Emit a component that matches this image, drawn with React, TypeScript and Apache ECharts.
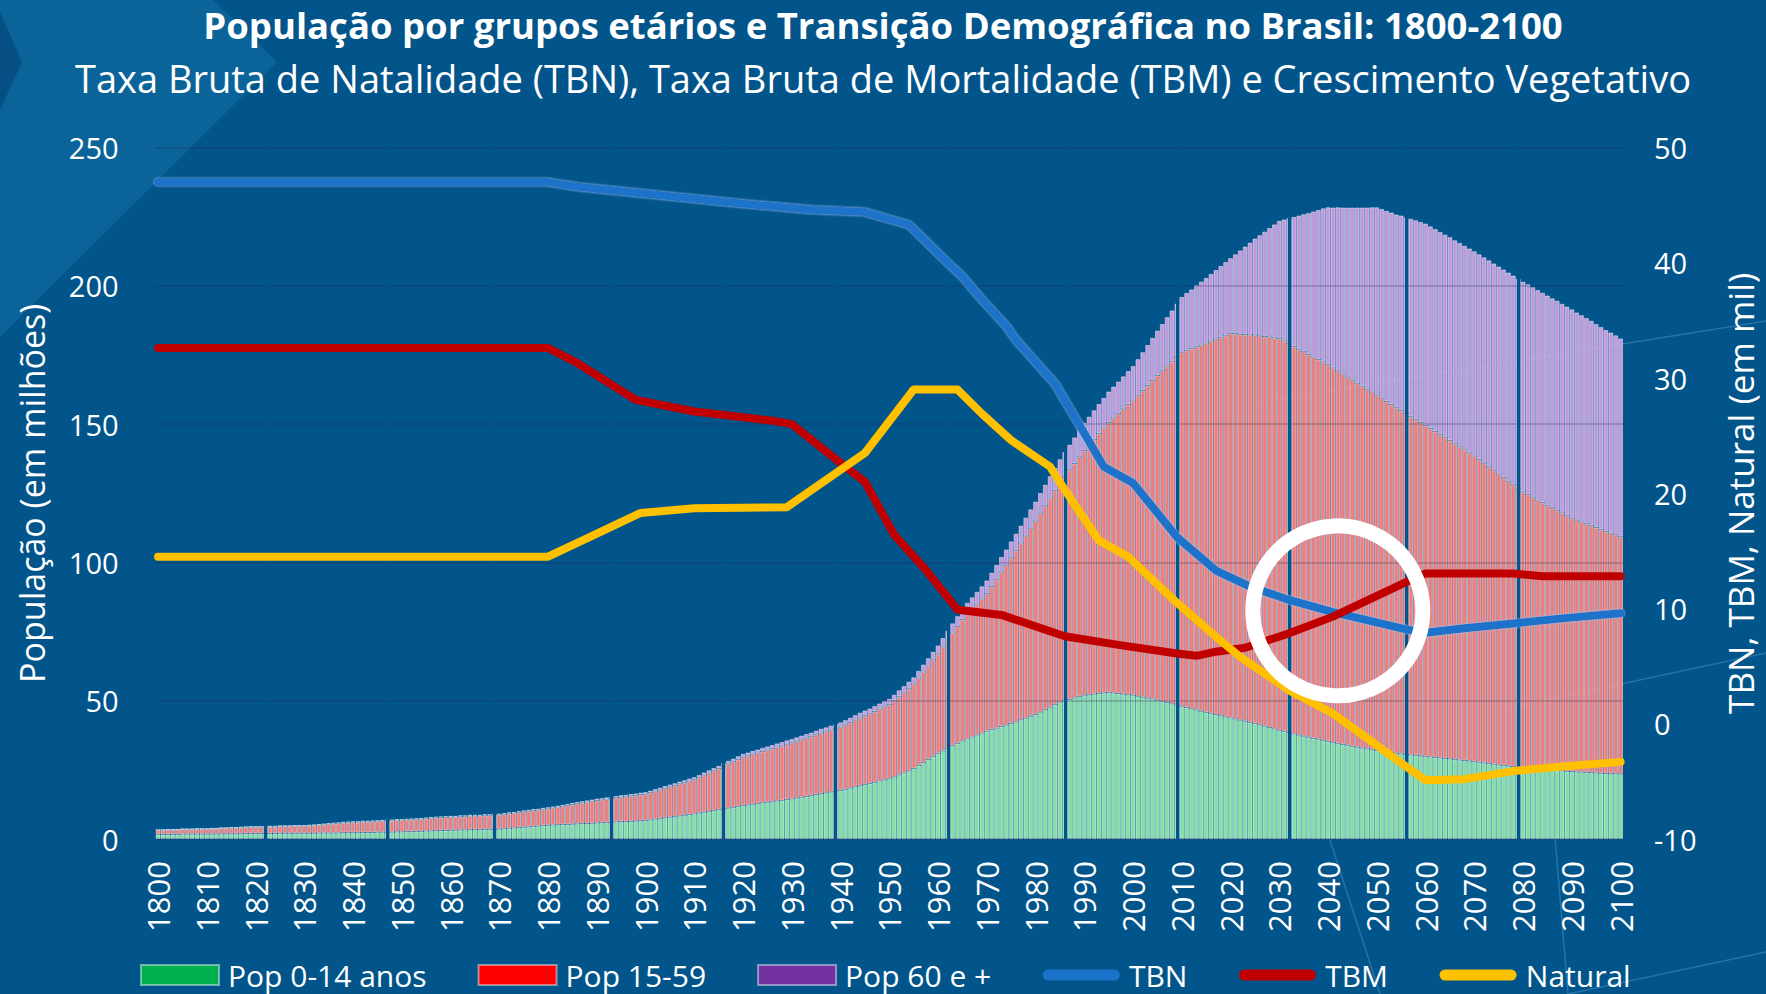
import React, { useEffect, useRef } from "react";
import * as echarts from "echarts";

// ---------- DATA ----------
const YEARS: string[] = Array.from({ length: 301 }, (_, i) => String(1800 + i));

const POP_0_14 = [
  1.7,1.7,1.7,1.7,1.7,1.8,1.8,1.8,1.8,1.8,
  1.8,1.8,1.8,1.9,1.9,1.9,1.9,1.9,2.0,2.0,
  2.0,2.0,2.0,2.0,2.0,2.1,2.1,2.1,2.1,2.1,
  2.1,2.1,2.1,2.2,2.2,2.2,2.2,2.2,2.3,2.3,
  2.3,2.3,2.4,2.4,2.4,2.5,2.5,2.5,2.5,2.6,
  2.6,2.7,2.7,2.8,2.8,2.9,3.0,3.0,3.1,3.1,
  3.2,3.2,3.3,3.3,3.4,3.4,3.4,3.5,3.5,3.6,
  3.6,3.7,3.9,4.0,4.2,4.3,4.4,4.6,4.7,4.9,
  5.0,5.1,5.2,5.2,5.3,5.4,5.5,5.6,5.6,5.7,
  5.8,5.9,6.0,6.1,6.2,6.3,6.3,6.4,6.5,6.6,
  6.7,6.9,7.2,7.4,7.7,7.9,8.1,8.4,8.6,8.9,
  9.1,9.4,9.7,10.0,10.3,10.6,10.9,11.2,11.5,11.8,
  12.1,12.3,12.6,12.8,13.1,13.3,13.5,13.8,14.0,14.3,
  14.5,14.8,15.1,15.4,15.7,16.1,16.4,16.7,17.0,17.3,
  17.6,18.0,18.4,18.9,19.3,19.7,20.1,20.5,21.0,21.4,
  21.8,22.5,23.2,23.9,24.7,25.5,26.6,27.7,28.8,29.9,
  31.0,31.9,32.8,33.7,34.6,35.5,36.2,36.9,37.6,38.3,
  39.0,39.6,40.1,40.7,41.2,41.8,42.4,43.1,43.7,44.4,
  45.0,45.9,46.8,47.7,48.6,49.5,50.0,50.5,51.0,51.5,
  52.0,52.2,52.4,52.6,52.8,53.0,52.8,52.6,52.4,52.2,
  52.0,51.6,51.3,50.9,50.6,50.2,49.8,49.4,48.9,48.5,
  48.0,47.6,47.1,46.7,46.2,45.8,45.4,45.0,44.6,44.2,
  43.8,43.4,43.0,42.6,42.2,41.8,41.3,40.8,40.3,39.8,
  39.3,38.9,38.5,38.0,37.6,37.2,36.8,36.4,36.1,35.7,
  35.3,34.9,34.6,34.2,33.9,33.5,33.2,32.9,32.6,32.3,
  32.0,31.8,31.5,31.3,31.0,30.8,30.6,30.4,30.3,30.1,
  29.9,29.7,29.5,29.3,29.1,29.0,28.8,28.6,28.4,28.2,
  28.0,27.8,27.5,27.3,27.1,26.8,26.6,26.4,26.2,25.9,
  25.7,25.6,25.4,25.3,25.2,25.0,24.9,24.8,24.7,24.5,
  24.4,24.3,24.2,24.1,24.0,23.9,23.8,23.7,23.6,23.6,
  23.5,
];

const POP_15_59 = [
  1.6,1.6,1.7,1.7,1.7,1.8,1.8,1.8,1.9,1.9,
  1.9,2.0,2.0,2.1,2.1,2.2,2.2,2.3,2.3,2.4,
  2.4,2.4,2.5,2.5,2.5,2.6,2.6,2.6,2.7,2.7,
  2.7,2.8,2.9,3.0,3.1,3.3,3.4,3.5,3.6,3.7,
  3.8,3.8,3.9,3.9,4.0,4.0,4.1,4.2,4.2,4.3,
  4.3,4.3,4.4,4.4,4.5,4.5,4.6,4.7,4.7,4.8,
  4.8,4.8,4.9,4.9,5.0,5.0,5.0,5.1,5.1,5.2,
  5.2,5.3,5.4,5.4,5.5,5.6,5.7,5.8,5.8,5.9,
  6.0,6.2,6.4,6.7,6.9,7.1,7.3,7.5,7.8,8.0,
  8.2,8.3,8.5,8.6,8.8,8.9,9.0,9.2,9.3,9.5,
  9.6,9.9,10.2,10.4,10.7,11.0,11.3,11.6,11.8,12.1,
  12.4,12.9,13.4,13.9,14.4,14.9,15.5,16.0,16.5,17.0,
  17.5,17.8,18.1,18.3,18.6,18.9,19.2,19.5,19.7,20.0,
  20.3,20.6,20.8,21.1,21.3,21.6,21.9,22.1,22.4,22.6,
  22.9,23.3,23.7,24.1,24.5,24.9,25.2,25.6,26.0,26.4,
  26.8,27.5,28.3,29.0,29.8,30.5,31.6,32.7,33.8,34.9,
  36.0,37.6,39.2,40.8,42.3,43.9,45.1,46.2,47.4,48.5,
  49.7,51.7,53.8,55.8,57.8,59.9,61.9,63.9,65.9,68.0,
  70.0,71.9,73.7,75.6,77.4,79.3,81.1,83.0,84.8,86.7,
  88.5,90.3,92.1,94.0,95.8,97.6,99.4,101.2,103.1,104.9,
  106.7,108.8,110.9,113.1,115.2,117.4,119.5,121.6,123.7,125.9,
  128.0,129.1,130.2,131.3,132.4,133.5,134.6,135.7,136.8,137.9,
  139.0,139.3,139.5,139.8,140.1,140.4,140.6,140.9,141.2,141.4,
  141.7,141.2,140.6,140.1,139.5,139.0,138.4,137.9,137.3,136.8,
  136.2,135.4,134.7,133.9,133.1,132.4,131.6,130.8,130.0,129.3,
  128.5,127.6,126.7,125.8,124.9,124.1,123.2,122.3,121.4,120.5,
  119.6,118.7,117.8,116.9,116.0,115.1,114.1,113.2,112.3,111.4,
  110.5,109.4,108.4,107.3,106.2,105.2,104.1,103.0,101.9,100.9,
  99.8,99.0,98.2,97.3,96.5,95.7,94.9,94.1,93.2,92.4,
  91.6,91.0,90.4,89.9,89.3,88.7,88.1,87.5,87.0,86.4,
  85.8,
];

const POP_60 = [
  0.1,0.1,0.1,0.1,0.1,0.1,0.1,0.1,0.1,0.1,
  0.1,0.1,0.1,0.1,0.1,0.2,0.2,0.2,0.2,0.2,
  0.2,0.2,0.2,0.2,0.2,0.2,0.2,0.2,0.2,0.2,
  0.2,0.2,0.2,0.2,0.2,0.3,0.3,0.3,0.3,0.3,
  0.3,0.3,0.3,0.3,0.3,0.3,0.3,0.3,0.3,0.3,
  0.3,0.3,0.3,0.3,0.3,0.4,0.4,0.4,0.4,0.4,
  0.4,0.4,0.4,0.4,0.4,0.4,0.4,0.4,0.4,0.4,
  0.4,0.4,0.4,0.4,0.4,0.5,0.5,0.5,0.5,0.5,
  0.5,0.5,0.5,0.5,0.5,0.6,0.6,0.6,0.6,0.6,
  0.6,0.6,0.6,0.6,0.6,0.7,0.7,0.7,0.7,0.7,
  0.7,0.7,0.7,0.8,0.8,0.8,0.8,0.8,0.9,0.9,
  0.9,0.9,1.0,1.0,1.0,1.0,1.1,1.1,1.1,1.2,
  1.2,1.2,1.2,1.3,1.3,1.3,1.3,1.3,1.4,1.4,
  1.4,1.4,1.5,1.5,1.5,1.5,1.6,1.6,1.6,1.7,
  1.7,1.7,1.8,1.8,1.9,1.9,1.9,2.0,2.0,2.1,
  2.1,2.2,2.3,2.4,2.4,2.5,2.6,2.7,2.8,2.9,
  3.0,3.2,3.3,3.5,3.7,3.9,4.1,4.3,4.4,4.6,
  4.8,5.0,5.2,5.5,5.7,5.9,6.1,6.3,6.6,6.8,
  7.0,7.3,7.6,7.9,8.2,8.5,8.8,9.1,9.4,9.7,
  10.0,10.2,10.5,10.7,10.9,11.2,11.4,11.6,11.8,12.1,
  12.3,13.1,13.8,14.6,15.4,16.2,16.9,17.7,18.5,19.2,
  20.0,20.7,21.4,22.2,22.9,23.6,24.3,25.0,25.8,26.5,
  27.2,28.7,30.3,31.8,33.3,34.9,36.4,37.9,39.4,41.0,
  42.5,43.9,45.4,46.8,48.3,49.7,51.1,52.6,54.0,55.5,
  56.9,58.0,59.1,60.2,61.3,62.4,63.5,64.6,65.7,66.8,
  67.9,68.4,68.9,69.4,69.9,70.5,71.0,71.5,72.0,72.5,
  73.0,73.1,73.2,73.3,73.4,73.5,73.6,73.7,73.8,73.9,
  74.0,74.2,74.4,74.6,74.8,75.0,75.2,75.4,75.6,75.8,
  76.0,76.0,75.9,75.9,75.8,75.8,75.7,75.7,75.6,75.6,
  75.5,75.1,74.8,74.4,74.1,73.6,73.2,72.8,72.5,72.1,
  71.7,
];

// [year, rate per thousand]
const TBN = [
  [1800, 47.0], [1880, 47.0], [1886, 46.6], [1902, 45.9], [1918, 45.2], [1934, 44.6],
  [1945, 44.4], [1954, 43.3], [1962, 40.0], [1965, 38.8], [1969, 36.8], [1974, 34.5],
  [1976, 33.3], [1984, 29.5], [1990, 25.2], [1994, 22.3], [2000, 20.9], [2009, 16.2],
  [2017, 13.3], [2024, 11.9], [2032, 10.75], [2041, 9.7], [2056, 8.2], [2060, 7.9],
  [2068, 8.3], [2078, 8.7], [2088, 9.15], [2100, 9.6],
];

const TBM = [
  [1800, 32.6], [1880, 32.6], [1886, 31.3], [1898, 28.1], [1910, 27.1], [1926, 26.3],
  [1930, 26.0], [1941, 22.3], [1945, 21.0], [1951, 16.4], [1957, 13.6], [1964, 9.9],
  [1973, 9.45], [1986, 7.6], [1997, 6.85], [2009, 6.1], [2013, 5.9], [2017, 6.26],
  [2023, 6.6], [2032, 7.85], [2041, 9.3], [2056, 12.3], [2060, 13.05], [2078, 13.05],
  [2084, 12.8], [2100, 12.8],
];

const NATURAL = [
  [1800, 14.5], [1880, 14.5], [1886, 15.7], [1899, 18.3], [1910, 18.7], [1929, 18.8],
  [1945, 23.5], [1955, 29.0], [1964, 29.0], [1969, 26.9], [1975, 24.6], [1983, 22.3],
  [1986, 20.3], [1993, 15.9], [1999, 14.5], [2009, 10.5], [2017, 7.56], [2022, 5.8],
  [2032, 2.9], [2041, 0.9], [2056, -3.7], [2060, -4.9], [2068, -4.8], [2078, -4.1],
  [2088, -3.7], [2100, -3.3],
];

const LEFT_AXIS = { min: 0, max: 250, interval: 50 };
const RIGHT_AXIS = { min: -10, max: 50, interval: 10 };
const GAP_YEARS = ["1822", "1847", "1869", "1893", "1916", "1939", "1962", "1986", "2009", "2032", "2056", "2079"];
const HIGHLIGHT = [2042, 9.8];

const TITLE = "População por grupos etários e Transição Demográfica no Brasil: 1800-2100";
const SUBTITLE = "Taxa Bruta de Natalidade (TBN), Taxa Bruta de Mortalidade (TBM) e Crescimento Vegetativo";

// ---------- STYLE ----------
const FONT = '"Open Sans", "Noto Sans", "DejaVu Sans", sans-serif';
const BG = "#02558b";
const LINE_ICON = "path://M0,0 M0,20 M6,4.5 L72,4.5 A5.5,5.5 0 0 1 72,15.5 L6,15.5 A5.5,5.5 0 0 1 6,4.5 Z";

function buildOption(): any {
  const barBase = {
    type: "bar",
    stack: "pop",
    xAxisIndex: 0,
    yAxisIndex: 0,
    barCategoryGap: "0%",
    z: 1,
    silent: true,
  };
  const decoLine = (x1: number, y1: number, x2: number, y2: number) => ({
    type: "line",
    z: -1,
    silent: true,
    shape: { x1, y1, x2, y2 },
    style: { stroke: "#2b7cb2", lineWidth: 1.5, opacity: 0.8 },
  });
  return {
    animation: false,
    backgroundColor: BG,
    textStyle: { fontFamily: FONT },
    title: [
      {
        text: TITLE,
        left: "center",
        top: 6,
        padding: 0,
        textStyle: { color: "#ffffff", fontSize: 36.5, fontWeight: "bold", fontFamily: FONT },
      },
      {
        text: SUBTITLE,
        left: "center",
        top: 59,
        padding: 0,
        textStyle: { color: "#ffffff", fontSize: 38, fontWeight: "normal", fontFamily: FONT },
      },
    ],
    graphic: [
      {
        type: "polygon",
        z: -2,
        silent: true,
        shape: { points: [[0, 0], [213, 0], [277, 62], [0, 337]] },
        style: { fill: "#0b6499" },
      },
      {
        type: "polygon",
        z: -1,
        silent: true,
        shape: { points: [[0, 12], [22, 62], [0, 110]] },
        style: { fill: "#054f84" },
      },
      decoLine(1766, 321, 1260, 402),
      decoLine(1766, 653, 1500, 710),
      decoLine(1329, 837, 1380, 994),
      decoLine(1555, 837, 1568, 994),
      decoLine(1568, 994, 1766, 952),
    ],
    legend: {
      left: 140,
      top: 960,
      padding: 0,
      itemGap: 51,
      itemWidth: 78,
      itemHeight: 20,
      selectedMode: false,
      textStyle: { color: "#ffffff", fontSize: 30, fontFamily: FONT, padding: [0, 0, 0, 4] },
      data: [
        { name: "Pop 0-14 anos", icon: "rect", itemStyle: { color: "#00b050" } },
        { name: "Pop 15-59", icon: "rect", itemStyle: { color: "#ff0000" } },
        { name: "Pop 60 e +", icon: "rect", itemStyle: { color: "#7030a0" } },
        { name: "TBN", icon: LINE_ICON, itemStyle: { color: "#1a73c9" } },
        { name: "TBM", icon: LINE_ICON, itemStyle: { color: "#c00000" } },
        { name: "Natural", icon: LINE_ICON, itemStyle: { color: "#ffc000" } },
      ],
    },
    grid: { left: 155.6, top: 147.5, width: 1468.8, height: 691.6 },
    xAxis: [
      {
        type: "category",
        data: YEARS,
        boundaryGap: true,
        axisLine: { show: false },
        axisTick: { show: false },
        splitLine: { show: false },
        axisLabel: {
          interval: 9,
          rotate: 90,
          margin: 22,
          color: "#ffffff",
          fontSize: 31,
          fontFamily: FONT,
        },
      },
      {
        type: "value",
        min: 1799.5,
        max: 2100.5,
        show: false,
        splitLine: { show: false },
      },
    ],
    yAxis: [
      {
        type: "value",
        position: "left",
        min: LEFT_AXIS.min,
        max: LEFT_AXIS.max,
        interval: LEFT_AXIS.interval,
        z: 2,
        name: "População (em milhões)",
        nameLocation: "middle",
        nameGap: 107,
        nameTextStyle: { color: "#ffffff", fontSize: 34, fontFamily: FONT },
        axisLine: { show: false },
        axisTick: { show: false },
        axisLabel: { color: "#ffffff", fontSize: 29, margin: 37, fontFamily: FONT },
        splitLine: { show: true, lineStyle: { color: "rgba(40,30,80,0.28)", width: 1.5 } },
      },
      {
        type: "value",
        position: "right",
        min: RIGHT_AXIS.min,
        max: RIGHT_AXIS.max,
        interval: RIGHT_AXIS.interval,
        name: "TBN, TBM, Natural (em mil)",
        nameLocation: "middle",
        nameRotate: 90,
        nameGap: 100,
        nameTextStyle: { color: "#ffffff", fontSize: 35, fontFamily: FONT },
        axisLine: { show: false },
        axisTick: { show: false },
        axisLabel: { color: "#ffffff", fontSize: 29, margin: 31, fontFamily: FONT },
        splitLine: { show: false },
      },
    ],
    series: [
      {
        ...barBase,
        name: "Pop 0-14 anos",
        data: POP_0_14,
        itemStyle: { color: "#82e0a6", borderColor: "rgba(255,255,255,0.45)", borderWidth: 1 },
      },
      {
        ...barBase,
        name: "Pop 15-59",
        data: POP_15_59,
        itemStyle: { color: "#f27c7c", borderColor: "rgba(255,255,255,0.45)", borderWidth: 1 },
      },
      {
        ...barBase,
        name: "Pop 60 e +",
        data: POP_60,
        itemStyle: { color: "#bf98dd", borderColor: "rgba(255,255,255,0.45)", borderWidth: 1 },
        markLine: {
          silent: true,
          z: 2,
          symbol: ["none", "none"],
          label: { show: false },
          lineStyle: { color: BG, width: 3, type: "solid", opacity: 1 },
          data: GAP_YEARS.map((y) => ({ xAxis: y })),
        },
      },
      {
        name: "TBN",
        type: "line",
        xAxisIndex: 1,
        yAxisIndex: 1,
        z: 3,
        data: TBN,
        symbol: "none",
        silent: true,
        lineStyle: {
          color: "#1a73c9",
          width: 8,
          cap: "round",
          join: "round",
          shadowColor: "rgba(160,200,240,0.9)",
          shadowBlur: 2,
        },
        markPoint: {
          silent: true,
          symbol: "circle",
          symbolSize: 170,
          label: { show: false },
          itemStyle: { color: "rgba(0,0,0,0)", borderColor: "#ffffff", borderWidth: 15 },
          data: [{ coord: HIGHLIGHT }],
        },
      },
      {
        name: "TBM",
        type: "line",
        xAxisIndex: 1,
        yAxisIndex: 1,
        z: 3,
        data: TBM,
        symbol: "none",
        silent: true,
        lineStyle: { color: "#c00000", width: 8, cap: "round", join: "round" },
      },
      {
        name: "Natural",
        type: "line",
        xAxisIndex: 1,
        yAxisIndex: 1,
        z: 3,
        data: NATURAL,
        symbol: "none",
        silent: true,
        lineStyle: { color: "#ffc000", width: 8, cap: "round", join: "round" },
      },
    ],
  };
}

export default function App() {
  const ref = useRef<HTMLDivElement>(null);
  useEffect(() => {
    document.body.style.margin = "0";
    document.body.style.overflow = "hidden";
    const chart = echarts.init(ref.current as HTMLDivElement, undefined, { renderer: "svg" });
    chart.setOption(buildOption());
    return () => chart.dispose();
  }, []);
  return <div ref={ref} style={{ width: 1766, height: 994 }} />;
}
